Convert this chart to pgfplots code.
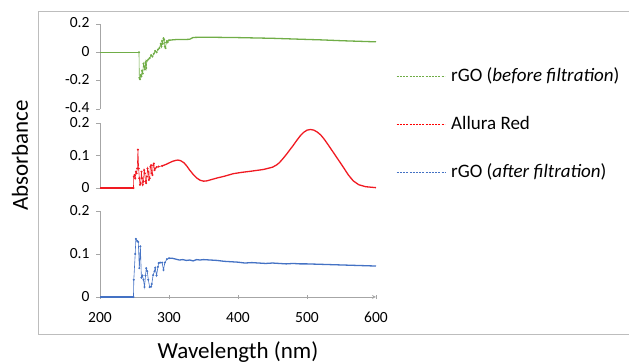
\documentclass[border=0pt]{standalone}
\usepackage{fontspec}
\setmainfont{Carlito}
\usepackage{pgfplots}
\pgfplotsset{compat=1.18}
\definecolor{xlgreen}{HTML}{70AD47}
\definecolor{xlred}{HTML}{F01A22}
\definecolor{xlblue}{HTML}{4472C4}
\definecolor{axgray}{HTML}{A6A6A6}
\definecolor{framegray}{HTML}{BDBDBD}
\pgfplotsset{
  stackax/.style={
    scale only axis, width=276pt,
    xmin=200, xmax=600,
    axis y line=left,
    axis line style={draw=axgray, line width=0.8pt, -},
    every outer y axis line/.append style={-},
    every outer x axis line/.append style={-},
    tick style={draw=axgray, line width=0.8pt},
    tick align=outside, major tick length=4pt,
    /pgf/number format/assume math mode=true,
    ticklabel style={font=\fontsize{15.5}{17}\selectfont},
    yticklabel style={xshift=-3pt},
    clip=false,
  },
  thickln/.style={line width=1.3pt, no marks},
  thinln/.style={line width=0.6pt, mark=*, mark size=0.7pt},
}
\begin{document}
\begin{tikzpicture}
\useasboundingbox (0pt,0pt) rectangle (629pt,364pt);
\draw[framegray, line width=1pt] (630pt,352pt) -- (38pt,352pt) -- (38pt,29pt) -- (630pt,29pt);

% ---------- top: rGO before filtration ----------
\begin{axis}[stackax, axis x line=none, at={(100pt,255pt)}, anchor=south west, height=85pt,
  ymin=-0.4, ymax=0.2, ytick={-0.4,-0.2,0,0.2}, yticklabels={-0.4,-0.2,0,0.2},
  yticklabel style={yshift=1pt}]
\addplot[xlgreen, thickln] coordinates {(200,0) (256.5,0)};
\addplot[xlgreen, thinln] coordinates {
(256.5,0) (257,-0.18) (258,-0.19) (259,-0.16) (260,-0.17) (261,-0.13) (262,-0.15)
(263,-0.08) (264,-0.10) (265,-0.12) (266,-0.07) (267,-0.11) (268,-0.06) (270,-0.05)
(272,-0.04) (274,-0.02) (276,-0.03) (278,-0.01) (280,0.01) (282,0.0) (284,0.02)
(286,0.03) (288,0.06) (289,0.04) (290,0.08) (291,0.06) (292,0.10) (293,0.09)
(294,0.04) (295,0.03) (296,0.07) (297,0.08) (298,0.07) (300,0.085)};
\addplot[xlgreen, thickln] coordinates {
(300,0.085) (305,0.088) (310,0.09) (320,0.09) (330,0.092) (333,0.10) (335,0.105)
(350,0.107) (400,0.104) (450,0.099) (500,0.091) (520,0.088) (550,0.082) (600,0.074)};
\end{axis}

% ---------- middle: Allura Red ----------
\begin{axis}[stackax, axis x line=none, at={(100pt,176pt)}, anchor=south west, height=65pt,
  ymin=0, ymax=0.2, ytick={0,0.1,0.2}, yticklabels={0,0.1,0.2},
  ylabel={Absorbance},
  ylabel style={at={(axis description cs:-0.29,0.5)}, anchor=center, font=\fontsize{23}{26}\selectfont},
  legend style={at={(axis description cs:1.0725,0.97)}, anchor=west, draw=white, fill=none,
    inner sep=0pt, row sep=31pt, column sep=5pt,
    font=\fontsize{19}{22}\selectfont,
    nodes={inner sep=0pt, text height=13pt, text depth=4pt}},
  legend cell align=left,
]
\addlegendimage{legend image code/.code={\draw[xlgreen, line width=1pt, dash pattern=on 2pt off 1.2pt] (0pt,0pt) -- (48pt,0pt);}}
\addlegendentry{rGO (\textit{before filtration})}
\addlegendimage{legend image code/.code={\draw[red, line width=1pt, dash pattern=on 2pt off 1.2pt] (0pt,0pt) -- (48pt,0pt);}}
\addlegendentry{Allura Red}
\addlegendimage{legend image code/.code={\draw[xlblue, line width=1pt, dash pattern=on 2pt off 1.2pt] (0pt,0pt) -- (49pt,0pt);}}
\addlegendentry{rGO (\textit{after filtration})}
\addplot[xlred, thickln, forget plot] coordinates {(200,0) (248.5,0)};
\addplot[xlred, thinln, forget plot] coordinates {
(248.5,0) (249,0.035) (250,0.04) (251,0.03) (252,0.05) (253,0.045) (254,0.06)
(255,0.118) (256,0.06) (257,0.03) (258,0.01) (259,0.015) (260,0.05) (261,0.03)
(262,0.01) (263,0.02) (264,0.055) (265,0.045) (266,0.02) (267,0.015) (268,0.035)
(269,0.06) (270,0.05) (271,0.025) (272,0.03) (273,0.065) (274,0.07) (275,0.045)
(276,0.04) (277,0.07) (278,0.075) (279,0.055) (280,0.06) (282,0.064) (285,0.066)
(290,0.068)};
\addplot[xlred, thickln, forget plot] coordinates {
(290,0.068) (295,0.072) (300,0.077) (305,0.082) (310,0.085) (313,0.086) (317,0.084)
(322,0.077) (326,0.067) (330,0.055) (335,0.042) (340,0.031) (345,0.024) (350,0.021)
(355,0.022) (360,0.025) (370,0.031) (380,0.036) (393,0.044) (405,0.048) (420,0.052)
(437,0.057) (450,0.064) (456,0.071) (460,0.078) (465,0.09) (470,0.103) (475,0.117)
(480,0.131) (485,0.146) (490,0.160) (495,0.171) (500,0.178) (505,0.180) (510,0.178)
(515,0.172) (520,0.163) (525,0.150) (530,0.135) (538,0.110) (545,0.088) (552,0.066)
(560,0.040) (567,0.022) (575,0.010) (585,0.004) (600,0.001)};
\end{axis}

% ---------- bottom: rGO after filtration ----------
\begin{axis}[stackax, axis x line=bottom, at={(100pt,67pt)}, anchor=south west, height=86pt,
  ymin=0, ymax=0.2, ytick={0,0.1,0.2}, yticklabels={0,0.1,0.2},
  xtick={200,300,400,500,600}, xticklabels={200,300,400,500,600},
  xticklabel style={yshift=-10pt},
  xlabel={Wavelength (nm)},
  xlabel style={at={(axis description cs:0.5,-0.645)}, anchor=center, font=\fontsize{23}{26}\selectfont},
]
\addplot[xlblue, thickln] coordinates {(200,0) (248.5,0)};
\addplot[xlblue, thinln] coordinates {
(248.5,0) (249,0.04) (251,0.10) (252,0.135) (254,0.13) (255.5,0.128) (257,0.067)
(258.5,0.118) (260,0.045) (261.5,0.05) (263,0.04) (264.5,0.023) (266,0.05) (267,0.067)
(268.5,0.06) (270,0.04) (272,0.023) (274,0.024) (275,0.03) (277,0.051) (279,0.06)
(280,0.068) (282,0.05) (284,0.07) (285,0.079) (287,0.08) (290,0.08) (292,0.063)
(294,0.08) (297,0.088) (300,0.09)};
\addplot[xlblue, thickln] coordinates {
(300,0.09) (305,0.09) (310,0.088) (315,0.086) (320,0.087) (325,0.085) (330,0.086)
(335,0.084) (340,0.087) (345,0.086) (350,0.087) (360,0.086) (370,0.085) (380,0.083)
(390,0.082) (400,0.081) (410,0.079) (420,0.080) (430,0.079) (440,0.078) (450,0.079)
(460,0.078) (470,0.077) (480,0.078) (490,0.077) (500,0.077) (520,0.076) (540,0.075)
(560,0.074) (580,0.073) (600,0.072)};
\end{axis}
\end{tikzpicture}
\end{document}
